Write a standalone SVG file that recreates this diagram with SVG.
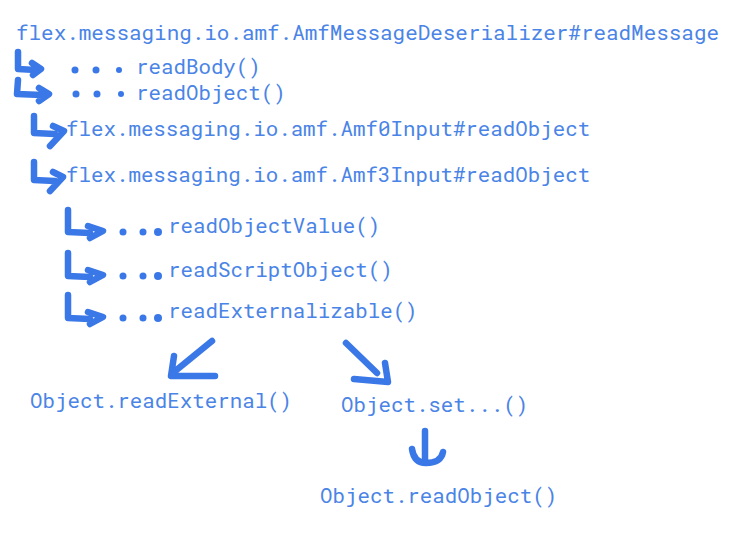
<svg xmlns="http://www.w3.org/2000/svg" width="746" height="535" viewBox="0 0 746 535">
<style>
.t{font-family:"Roboto Mono","DejaVu Sans Mono","Liberation Mono",monospace;font-size:20.8px;fill:#4a84e6}
.a{fill:none;stroke:#3b78e7;stroke-width:6.5;stroke-linecap:round;stroke-linejoin:round}
.d{fill:#3b78e7}
</style>
<rect width="746" height="535" fill="#ffffff"/>
<g id="n-readMessage"><text class="t" x="16" y="40" textLength="703" lengthAdjust="spacingAndGlyphs">flex.messaging.io.amf.AmfMessageDeserializer#readMessage</text></g>
<g id="n-readBody"><text class="t" x="136" y="74">readBody()</text></g>
<g id="n-readObject"><text class="t" x="136" y="100">readObject()</text></g>
<g id="n-amf0"><text class="t" x="66" y="136">flex.messaging.io.amf.Amf0Input#readObject</text></g>
<g id="n-amf3"><text class="t" x="66" y="182">flex.messaging.io.amf.Amf3Input#readObject</text></g>
<g id="n-readObjectValue"><text class="t" x="168" y="233">readObjectValue()</text></g>
<g id="n-readScriptObject"><text class="t" x="168" y="277">readScriptObject()</text></g>
<g id="n-readExternalizable"><text class="t" x="168" y="318">readExternalizable()</text></g>
<g id="n-readExternal"><text class="t" x="30" y="408">Object.readExternal()</text></g>
<g id="n-set"><text class="t" x="341" y="412">Object.set...()</text></g>
<g id="n-objReadObject"><text class="t" x="320" y="503">Object.readObject()</text></g>
<g id="connectors">
<path class="a" d="M18,52 L18,69 L36,70 M32,63 L41,69 L33,75"/>
<circle class="d" cx="75" cy="70" r="3.5"/><circle class="d" cx="96" cy="70" r="3.5"/><circle class="d" cx="119" cy="70" r="3"/>
<path class="a" d="M18,80 L17,94 L42,95 M39,88 L49,94 L39,101"/>
<circle class="d" cx="76" cy="94" r="3.5"/><circle class="d" cx="97" cy="94" r="3.5"/><circle class="d" cx="121" cy="94" r="3"/>
<path class="a" d="M34,116 L34,133 L55,134 M53,126 L64,131 L50,146"/>
<path class="a" d="M34,162 L34,180 L55,181 M53,172 L63,177 L50,191"/>
<path class="a" d="M68,210 L68,232 L90,233 M88,226 L103,231 L90,238"/>
<circle class="d" cx="123" cy="232" r="3.5"/><circle class="d" cx="143" cy="232" r="3.5"/><circle class="d" cx="158" cy="232" r="4"/>
<path class="a" d="M68,253 L68,276 L90,277 M88,270 L103,275 L90,282"/>
<circle class="d" cx="123" cy="276" r="3.5"/><circle class="d" cx="143" cy="276" r="3.5"/><circle class="d" cx="158" cy="276" r="4"/>
<path class="a" d="M68,295 L68,318 L90,319 M88,312 L103,317 L90,324"/>
<circle class="d" cx="123" cy="318" r="3.5"/><circle class="d" cx="143" cy="318" r="3.5"/><circle class="d" cx="158" cy="318" r="4"/>
<path class="a" d="M212,341 L174,372 M174,356 L171,376 L215,376"/>
<path class="a" d="M346,343 L377,373 M354,379 L388,382 L385,363"/>
<path class="a" d="M425,431 L425,461 M412,449 Q414,463 426,463 Q441,463 443,452"/>
</g>
</svg>
